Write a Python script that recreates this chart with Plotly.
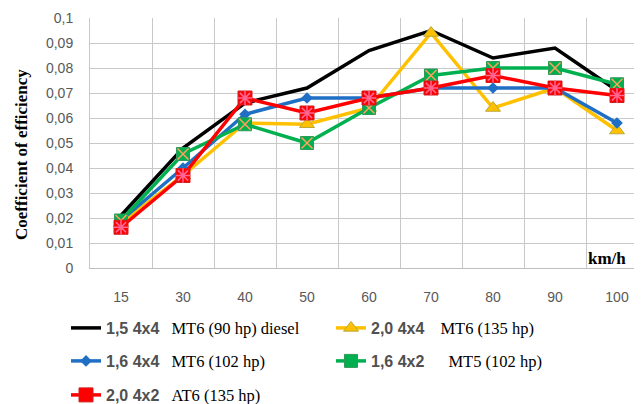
import plotly.graph_objects as go

categories = ["15", "30", "40", "50", "60", "70", "80", "90", "100"]
s_black = [0.021, 0.048, 0.066, 0.072, 0.087, 0.095, 0.084, 0.088, 0.071]
s_yellow = [0.018, 0.037, 0.058, 0.0575, 0.064, 0.094, 0.064, 0.072, 0.055]
s_blue = [0.019, 0.040, 0.0615, 0.068, 0.068, 0.072, 0.072, 0.072, 0.058]
s_green = [0.019, 0.0456, 0.0575, 0.050, 0.064, 0.077, 0.080, 0.080, 0.0735]
s_red = [0.0163, 0.037, 0.068, 0.062, 0.068, 0.072, 0.077, 0.072, 0.069]
ytick_vals = [0, 0.01, 0.02, 0.03, 0.04, 0.05, 0.06, 0.07, 0.08, 0.09, 0.1]
ytick_text = ["0", "0,01", "0,02", "0,03", "0,04", "0,05", "0,06", "0,07", "0,08", "0,09", "0,1"]

SANS = "Liberation Sans"
SERIF = "Liberation Serif"


def nm(a, b, gap=3):
    sp = "&nbsp;" * gap
    return (f"<span style='font-family:{SANS};font-size:16px;font-weight:bold;color:#505050'>{a}</span>"
            f"{sp}<span style='font-family:{SERIF};font-size:16.5px;color:#000'>{b}</span>")


fig = go.Figure()
fig.add_trace(go.Scatter(x=categories, y=s_black, mode="lines", name=nm("1,5 4x4", "MT6 (90 hp) diesel"),
                         line=dict(color="black", width=3.5), legend="legend"))
fig.add_trace(go.Scatter(x=categories, y=s_yellow, mode="lines+markers", name=nm("2,0 4x4", "MT6 (135 hp)", 4),
                         line=dict(color="#FFC000", width=3.5),
                         marker=dict(symbol="triangle-up", size=13, color="#FFC000", line=dict(color="#B8A93A", width=1)),
                         legend="legend2"))
fig.add_trace(go.Scatter(x=categories, y=s_blue, mode="lines+markers", name=nm("1,6 4x4", "MT6 (102 hp)"),
                         line=dict(color="#1F6FC5", width=3.5),
                         marker=dict(symbol="diamond", size=9, color="#1F6FC5"),
                         legend="legend3"))
fig.add_trace(go.Scatter(x=categories, y=s_green, mode="lines+markers",
                         name=nm("1,6 4x2", "MT5 (102 hp)", 6),
                         line=dict(color="#00B050", width=3.5),
                         marker=dict(symbol="square", size=13, color="#00B050", line=dict(color="#2E9A5A", width=1)),
                         legend="legend4"))
fig.add_trace(go.Scatter(x=categories, y=s_green, mode="markers", showlegend=False, hoverinfo="skip",
                         marker=dict(symbol="x-thin-open", size=11, line=dict(color="#6E6A9E", width=1.5))))
fig.add_trace(go.Scatter(x=categories, y=s_red, mode="lines+markers", name=nm("2,0 4x2", "AT6 (135 hp)"),
                         line=dict(color="#FF0000", width=3.5),
                         marker=dict(symbol="square", size=14, color="#FF0000", line=dict(color="#D02020", width=1)),
                         legend="legend5"))
fig.add_trace(go.Scatter(x=categories, y=s_red, mode="markers", showlegend=False, hoverinfo="skip",
                         marker=dict(symbol="asterisk-open", size=12, line=dict(color="#4F81BD", width=1.5))))

# page body has an 8px margin: target (screen) coords are shifted by OFF
OFF = 8
W, H = 642, 404
L, R, T = 90 - OFF, 0, 18 - OFF
B = H - (268 - OFF)
pw, ph = W - L - R, H - T - B


def px_x(x):
    return (x - OFF - L) / pw


def px_y(y):
    return (H - B - (y - OFF)) / ph


# plot spans screen x 90 -> 650 ; category width ~62 px
x_end = -0.5 + pw / 62.0

leg_common = dict(orientation="h", xanchor="left", yanchor="middle", bgcolor="rgba(0,0,0,0)",
                  itemwidth=30, font=dict(family=SERIF, size=16, color="black"))

fig.update_layout(
    width=W, height=H,
    margin=dict(l=L, r=R, t=T, b=B, autoexpand=False),
    plot_bgcolor="white", paper_bgcolor="white",
    legend=dict(x=px_x(66), y=px_y(328), **leg_common),
    legend2=dict(x=px_x(331), y=px_y(328), **leg_common),
    legend3=dict(x=px_x(66), y=px_y(361), **leg_common),
    legend4=dict(x=px_x(331), y=px_y(361), **leg_common),
    legend5=dict(x=px_x(66), y=px_y(395), **leg_common),
    xaxis=dict(type="category", range=[-0.5, x_end], tickson="boundaries", showgrid=True, automargin=False,
               gridcolor="#C8C8C8", gridwidth=1, showline=True, linecolor="#BFBFBF", linewidth=1,
               ticks="", ticklabelstandoff=16,
               tickfont=dict(family=SANS, size=14, color="#595959"), zeroline=False),
    yaxis=dict(range=[0, 0.1], tickvals=ytick_vals, ticktext=ytick_text, showgrid=True, automargin=False,
               gridcolor="#C8C8C8", gridwidth=1, showline=True, linecolor="#C8C8C8",
               ticks="outside", ticklen=13, tickcolor="rgba(0,0,0,0)",
               tickfont=dict(family=SANS, size=14, color="#595959"), zeroline=False),
    showlegend=True,
    annotations=[
        dict(text="<b>Coefficient of efficiency</b>", textangle=-90, x=px_x(21), y=px_y(155),
             xanchor="center", yanchor="middle",
             xref="paper", yref="paper", showarrow=False, font=dict(family=SERIF, size=17, color="black")),
        dict(text="<b>km/h</b>", x=px_x(607), y=px_y(258), xanchor="center", yanchor="middle",
             xref="paper", yref="paper", showarrow=False,
             font=dict(family=SERIF, size=17, color="black")),
    ],
)

fig.write_html("out.html")
